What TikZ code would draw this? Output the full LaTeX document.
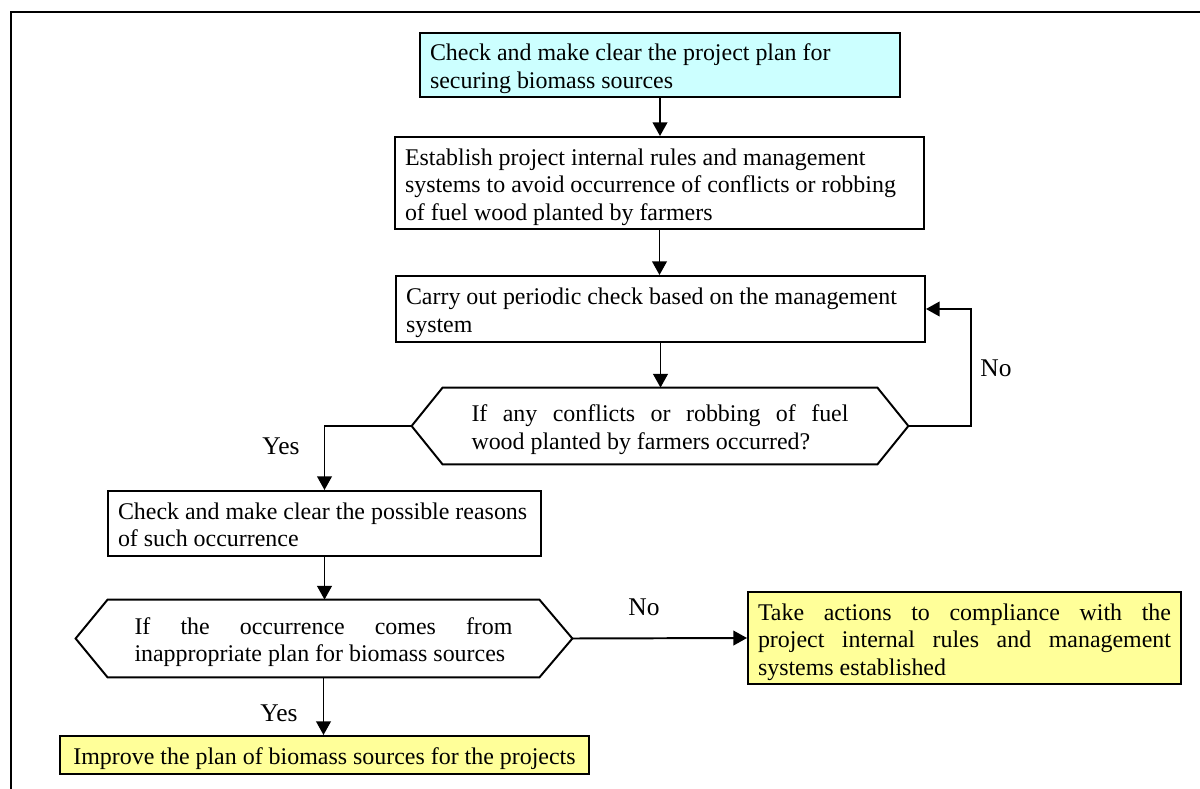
\documentclass[tikz,border=0pt]{standalone}
\usepackage{fontspec}
\setmainfont{Liberation Serif}
\usetikzlibrary{arrows.meta}
\newdimen\upx \upx=0.51pt
\definecolor{boxcyan}{HTML}{CCFFFF}
\definecolor{boxyellow}{HTML}{FFFF99}
% natural word spacing, plus struts that give every text block the same top and bottom extent
\newcommand\topstrut{\spaceskip=0pt\xspaceskip=0pt\rule{0pt}{12.8pt}}
\newcommand\botstrut{\rule[-3pt]{0pt}{3pt}}
\begin{document}
\begin{tikzpicture}[x=0.51pt,y=-0.51pt,
  every node/.style={font=\fontsize{12.2}{14}\selectfont},
  flowtext/.style={execute at begin node=\topstrut, execute at end node=\botstrut},
  box/.style={flowtext, draw=black, line width=1pt, inner xsep=10\upx, inner ysep=0pt, align=left, anchor=center},
  decision/.style={flowtext, inner sep=0pt, align=left, anchor=center},
  hexline/.style={line width=1pt},
  arr/.style={line width=1pt, -{Triangle[length=7pt,width=7.5pt]}},
  lbl/.style={font=\fontsize{13}{15}\selectfont}
]
\useasboundingbox (0,0) rectangle (1200,789);

% surrounding frame
\draw[line width=0.8pt] (11,800) -- (11,12) -- (1210,12);

% process boxes
\node[box, fill=boxcyan, minimum width=480\upx, minimum height=64\upx, text width=460\upx] (c1) at (660,65)
  {Check and make clear the project plan for\\securing biomass sources};
\node[box, minimum width=529\upx, minimum height=92\upx, text width=509\upx] (b2) at (659.5,183)
  {Establish project internal rules and management\\systems to avoid occurrence of conflicts or robbing\\of fuel wood planted by farmers};
\node[box, minimum width=529\upx, minimum height=66\upx, text width=509\upx] (b3) at (660.5,309)
  {Carry out periodic check based on the management\\system};

% first decision
\node[decision, minimum width=434\upx, minimum height=76\upx, text width=377\upx] (d1) at (660,426)
  {\makebox[377\upx][s]{If any conflicts or robbing of fuel}\\wood planted by farmers occurred?};
\coordinate (d1r) at ([xshift=31\upx]d1.east);
\coordinate (d1l) at ([xshift=-31\upx]d1.west);
\draw[hexline] (d1.north west) -- (d1.north east) -- (d1r) -- (d1.south east) -- (d1.south west) -- (d1l) -- cycle;

\node[box, minimum width=433\upx, minimum height=65\upx, text width=413\upx] (b4) at (324.5,523.5)
  {\mbox{Check and make clear the possible reasons}\\of such occurrence};

% second decision
\node[decision, minimum width=431\upx, minimum height=77\upx, text width=378\upx] (d2) at (323.5,638.5)
  {\makebox[378\upx][s]{If the occurrence comes from}\\inappropriate plan for biomass sources};
\coordinate (d2r) at ([xshift=33\upx]d2.east);
\coordinate (d2l) at ([xshift=-32\upx]d2.west);
\draw[hexline] (d2.north west) -- (d2.north east) -- (d2r) -- (d2.south east) -- (d2.south west) -- (d2l) -- cycle;

% outcomes
\node[box, fill=boxyellow, minimum width=433\upx, minimum height=92\upx, text width=413\upx] (y1) at (964.5,638)
  {\makebox[413\upx][s]{Take actions to compliance with the}\\\makebox[413\upx][s]{project internal rules and management}\\systems established};
\node[box, fill=boxyellow, minimum width=529\upx, minimum height=38\upx, align=center] (y2) at (324.5,755)
  {Improve the plan of biomass sources for the projects};

% connectors
\draw[arr] (c1.south) -- (c1.south |- b2.north);
\draw[arr] (b2.south) -- (b2.south |- b3.north);
\draw[arr] (b3.south) -- (b3.south |- d1.north);
\draw[arr] (d1r) -- ++(63,0) |- (b3.east);
\draw[arr] (d1l) -| (b4.north);
\draw[arr] (b4.south) -- (b4.south |- d2.north);
\draw[arr] (d2r) -- (y1.west);
\draw[arr] (d2.south) -- (d2.south |- y2.north);

% branch labels
\node[lbl] (no1) at (996,368) {No};
\node[lbl] (yes1) at (281,446) {Yes};
\node[lbl] (no2) at (644,607) {No};
\node[lbl] (yes2) at (279,713) {Yes};
\end{tikzpicture}
\end{document}
